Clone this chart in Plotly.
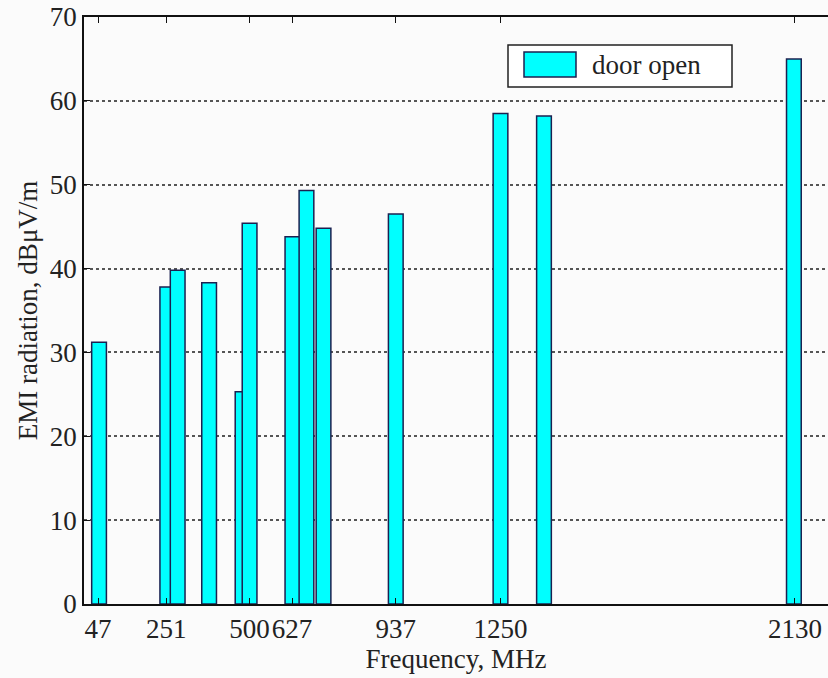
import plotly.graph_objects as go

# Data
freq_mhz = [50, 254, 285, 379, 479, 500, 628, 670, 721, 937, 1250, 1380, 2127]
emi_dbuv = [31.2, 37.8, 39.8, 38.3, 25.3, 45.4, 43.8, 49.3, 44.8, 46.5, 58.5, 58.2, 65.0]
x_tick_vals = [47, 251, 500, 627, 937, 1250, 2130]
x_tick_text = ["47", "251", "500", "627", "937", "1250", "2130"]
series_name = "door open"

FONT = "Liberation Serif, Times New Roman, serif"
FS = 27
BG = "#fbfbfb"
CYAN = "#00ffff"
EDGE = "#1c2050"

fig = go.Figure()
fig.add_trace(go.Bar(
    x=freq_mhz, y=emi_dbuv, width=44, name=series_name,
    marker=dict(color=CYAN, line=dict(color=EDGE, width=1.5)),
    showlegend=False,
))

fig.update_layout(
    width=828, height=678,
    margin=dict(l=84, r=0, t=17, b=74),
    paper_bgcolor=BG, plot_bgcolor=BG,
    font=dict(family=FONT, size=FS, color="#222"),
    xaxis=dict(
        range=[5, 2229], tickmode="array", tickvals=x_tick_vals, ticktext=x_tick_text,
        tickangle=0, automargin=False,
        showgrid=False, zeroline=False, showline=True, linecolor="#111", linewidth=1.5,
        mirror="ticks", ticks="inside", ticklen=6, tickcolor="#111", tickwidth=1.2,
        title=dict(text="Frequency, MHz", standoff=0, font=dict(family=FONT, size=FS)),
        tickfont=dict(family=FONT, size=FS),
    ),
    yaxis=dict(
        range=[0, 70], dtick=10, showgrid=True, gridcolor="#555", gridwidth=1.5,
        griddash="3px,3px", zeroline=False, showline=True, linecolor="#111", linewidth=1.5,
        mirror=False, ticks="inside", ticklen=6, tickcolor="#111", tickwidth=1.2,
        automargin=False,
        title=dict(text="EMI radiation, dBμV/m", standoff=4, font=dict(family=FONT, size=FS)),
        tickfont=dict(family=FONT, size=FS),
    ),
)

# Custom legend (box, patch, label) to match the reference proportions
def px_x(p):
    return (p - 84) / 744

def px_y(p):
    return (604 - p) / 587

fig.add_shape(type="rect", xref="paper", yref="paper",
              x0=px_x(508), x1=px_x(732), y0=px_y(87), y1=px_y(45),
              fillcolor="white", line=dict(color="#222", width=1.5))
fig.add_shape(type="rect", xref="paper", yref="paper",
              x0=px_x(524), x1=px_x(576), y0=px_y(77), y1=px_y(52),
              fillcolor=CYAN, line=dict(color=EDGE, width=1.5))
fig.add_annotation(xref="paper", yref="paper", x=px_x(590), y=px_y(65),
                   xanchor="left", yanchor="middle", showarrow=False,
                   text=series_name, font=dict(family=FONT, size=FS, color="#222"))

fig.write_html("out.html")
